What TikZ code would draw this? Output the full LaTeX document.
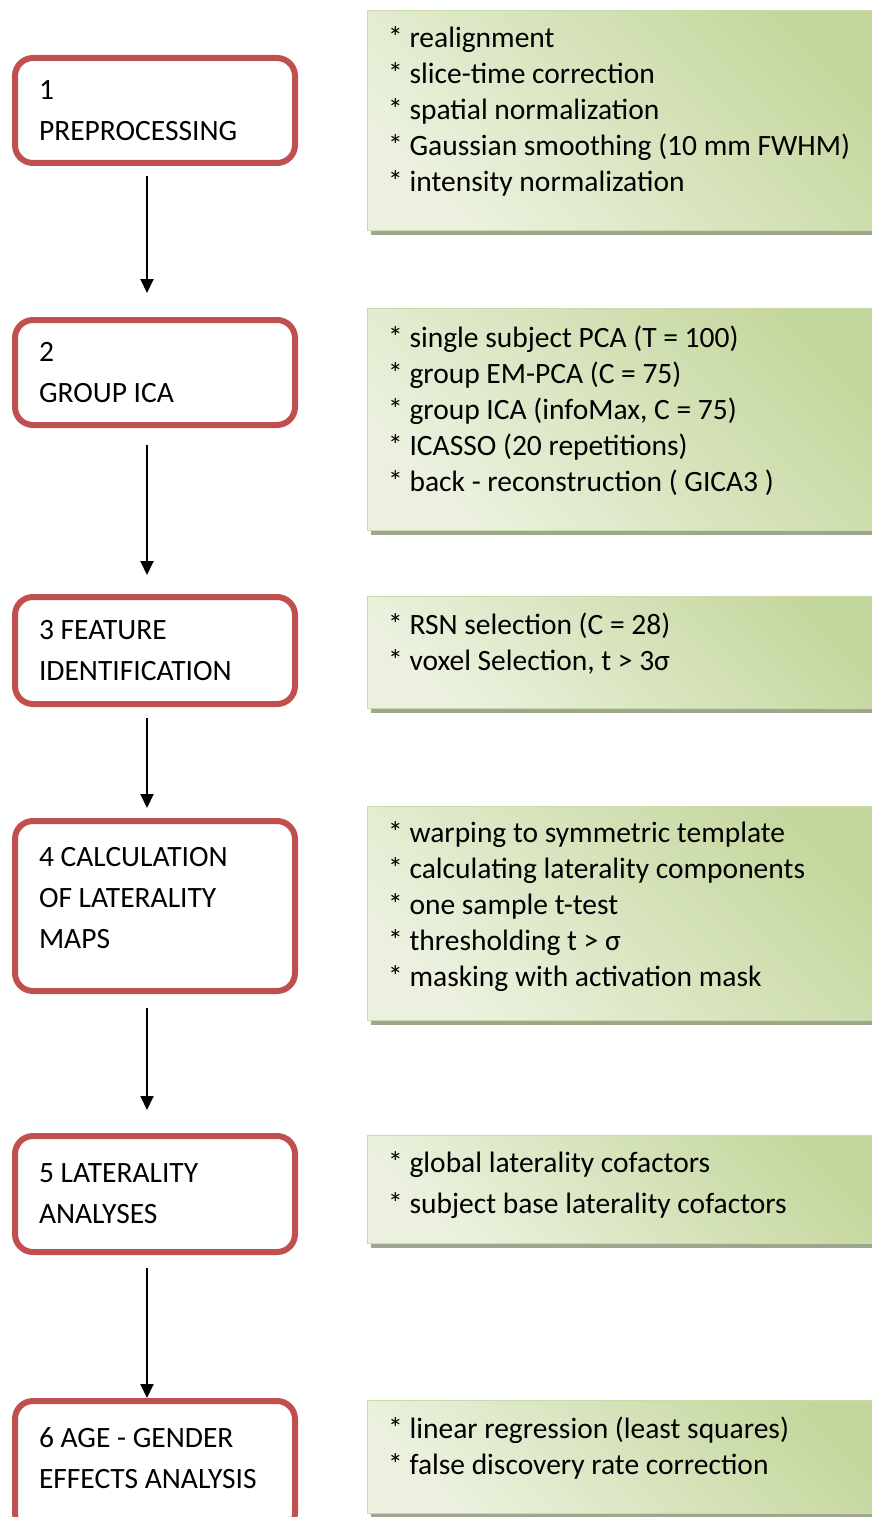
\documentclass[tikz,border=0pt]{standalone}
\usepackage{fontspec}
\setmainfont{Carlito}
\usetikzlibrary{positioning, arrows.meta, shadows}
\definecolor{stepred}{HTML}{C0504D}
\definecolor{infodark}{HTML}{C3D69B}
\definecolor{infolight}{HTML}{EBF1DE}
\definecolor{infoedge}{HTML}{C9DBA8}
\definecolor{infoshadow}{HTML}{9EA68D}
\tikzset{
    stepbox/.style={draw=stepred, line width=6pt, rounded corners=18pt, fill=white, minimum width=280pt, text width=232pt, inner xsep=24pt, align=flush left, font=\fontsize{29.5}{41}\selectfont}, % red process boxes
    infobox/.style={anchor=north west, draw=infoedge, line width=1pt, top color=infodark, bottom color=infolight, shading angle=-45, minimum width=540pt, drop shadow={shadow xshift=3pt, shadow yshift=-4pt, fill=infoshadow, opacity=1}}, % green detail boxes
    infotext/.style={anchor=west, align=left, inner sep=0pt, font=\fontsize{29.5}{36}\selectfont},
    flow/.style={-{Triangle[width=13pt,length=14pt]}, line width=2pt},
}
\begin{document}
\begin{tikzpicture}[x=1pt, y=-1pt]
    \useasboundingbox (0,0) rectangle (872,1517);
    % process steps
    \node[stepbox, minimum height=105pt] (prep) at (155,110.5) {1\\PREPROCESSING};
    \node[stepbox, minimum height=105pt] (ica) at (155,372.5) {2\\GROUP ICA};
    \node[stepbox, minimum height=107pt] (feat) at (155,650.5) {3 FEATURE\\IDENTIFICATION};
    \node[stepbox, minimum height=170pt] (calc) at (155,906) {4 CALCULATION\\OF LATERALITY\\MAPS\\[-25pt]\mbox{}};
    \node[stepbox, minimum height=116pt] (lat) at (155,1194) {5 LATERALITY\\ANALYSES};
    \node[stepbox, minimum height=130pt] (age) at (155,1466) {6 AGE - GENDER\\EFFECTS ANALYSIS\\[-25pt]\mbox{}};
    % details
    \node[infobox, minimum height=220pt] (prepinfo) at (367,10) {};
    \node[infotext] (prepitems) at ([xshift=21pt, yshift=9pt]prepinfo.west) {* realignment\\* slice-time correction\\* spatial normalization\\* Gaussian smoothing (10 mm FWHM)\\* intensity normalization};
    \node[infobox, minimum height=222pt] (icainfo) at (367,308) {};
    \node[infotext] (icaitems) at ([xshift=21pt, yshift=9pt]icainfo.west) {* single subject PCA (T = 100)\\* group EM-PCA (C = 75)\\* group ICA (infoMax, C = 75)\\* ICASSO (20 repetitions)\\* back - reconstruction ( GICA3 )};
    \node[infobox, minimum height=112pt] (featinfo) at (367,596) {};
    \node[infotext] (featitems) at ([xshift=21pt, yshift=9pt]featinfo.west) {* RSN selection (C = 28)\\* voxel Selection, t > 3σ};
    \node[infobox, minimum height=214pt] (calcinfo) at (367,806) {};
    \node[infotext] (calcitems) at ([xshift=21pt, yshift=7pt]calcinfo.west) {* warping to symmetric template\\* calculating laterality components\\* one sample t-test\\* thresholding t > σ\\* masking with activation mask};
    \node[infobox, minimum height=108pt] (latinfo) at (367,1135) {};
    \node[infotext, font=\fontsize{29.5}{41}\selectfont] (latitems) at ([xshift=21pt, yshift=4pt]latinfo.west) {* global laterality cofactors\\* subject base laterality cofactors};
    \node[infobox, minimum height=113pt] (ageinfo) at (367,1400) {};
    \node[infotext] (ageitems) at ([xshift=21pt, yshift=9pt]ageinfo.west) {* linear regression (least squares)\\* false discovery rate correction};
    % flow
    \draw[flow] ([shift={(-8pt,-10pt)}]prep.south) -- ([shift={(-8pt,24pt)}]ica.north);
    \draw[flow] ([shift={(-8pt,-17pt)}]ica.south) -- ([shift={(-8pt,19pt)}]feat.north);
    \draw[flow] ([shift={(-8pt,-11pt)}]feat.south) -- ([shift={(-8pt,10pt)}]calc.north);
    \draw[flow] ([shift={(-8pt,-14pt)}]calc.south) -- ([shift={(-8pt,23pt)}]lat.north);
    \draw[flow] ([shift={(-8pt,-13pt)}]lat.south) -- ([shift={(-8pt,0pt)}]age.north);
\end{tikzpicture}
\end{document}
